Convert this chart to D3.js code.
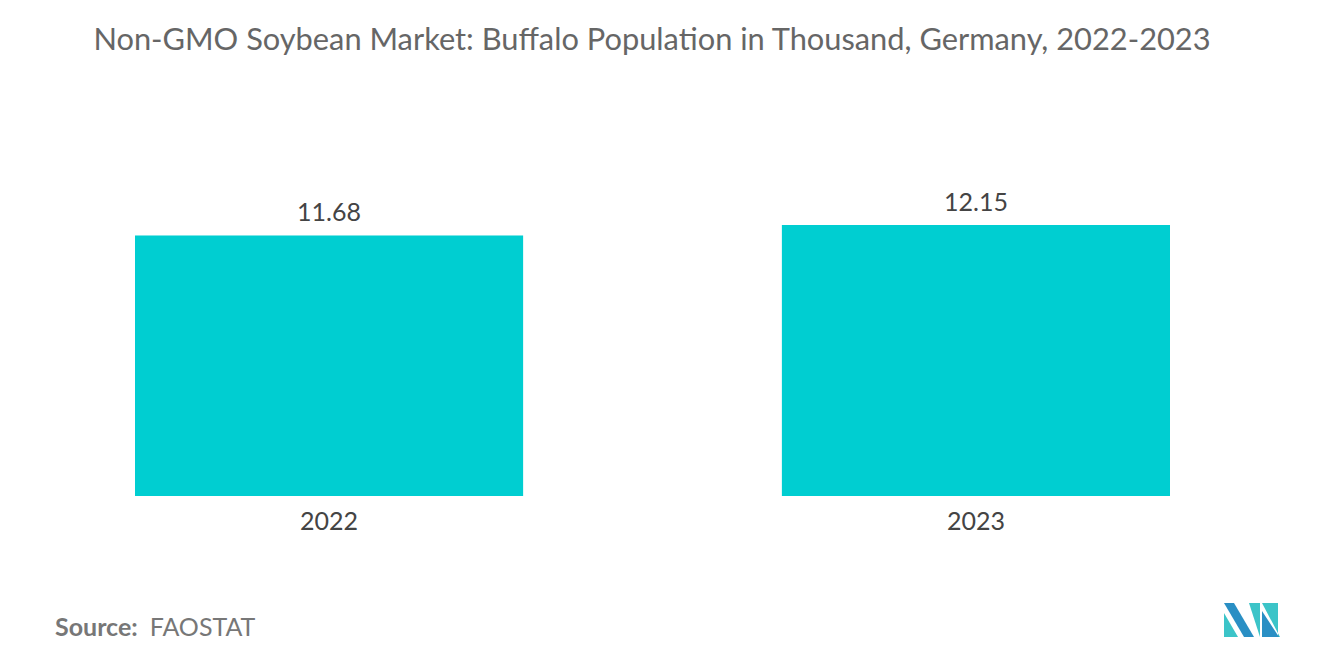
<!DOCTYPE html>
<html><head><meta charset="utf-8">
<script src="https://cdn.jsdelivr.net/npm/d3@7"></script>
<style>body{margin:0;background:#fff}svg{display:block}text{font-family:Lato,"Open Sans",sans-serif}</style>
</head><body><svg id="c" width="1320" height="665"></svg>
<script>
const categories = ["2022","2023"];
const values = [11.68, 12.15];
const svg = d3.select("#c");
svg.append("text").attr("x",652).attr("y",50).attr("text-anchor","middle").attr("font-size",30.8).attr("fill","#666").text("Non-GMO Soybean Market: Buffalo Population in Thousand, Germany, 2022-2023");
const x = d3.scaleBand().domain(categories).range([135,1170]).paddingInner(0.4).paddingOuter(0);
const y = d3.scaleLinear().domain([0,12.15]).range([496,225]);
svg.selectAll("rect.b").data(values).enter().append("rect").attr("x",(d,i)=>x(categories[i])).attr("width",x.bandwidth()).attr("y",d=>y(d)).attr("height",d=>496-y(d)).attr("fill","#00ced1");
svg.selectAll("text.v").data(values).enter().append("text").attr("x",(d,i)=>x(categories[i])+x.bandwidth()/2).attr("y",d=>y(d)-14).attr("text-anchor","middle").attr("font-size",25).attr("fill","#444").text(d=>d.toFixed(2));
const ax = svg.append("g").attr("transform","translate(0,496)").call(d3.axisBottom(x).tickSize(0).tickPadding(16));
ax.select(".domain").remove();
ax.selectAll("text").attr("font-size",25).attr("fill","#444").attr("font-family","Lato,sans-serif");
svg.append("text").attr("x",55).attr("y",636).attr("font-size",25).attr("fill","#777").html('<tspan font-weight="bold">Source:</tspan><tspan dx="12">FAOSTAT</tspan>');
const g = svg.append("g").attr("transform","translate(1224,603)");
g.append("polygon").attr("points","0,0 10,0 30,34 20,34 ").attr("fill","#2a8fc4");
g.append("polygon").attr("points","0,10 0,34 14,34").attr("fill","#3cc4c8");
g.append("polygon").attr("points","25,0 36,0 36,34 ").attr("fill","#3cc4c8");
g.append("polygon").attr("points","38,0 54,0 54,34 56,34").attr("fill","#3cc4c8");
g.append("polygon").attr("points","38,8 55,34 38,34").attr("fill","#2a8fc4");
</script></body></html>
